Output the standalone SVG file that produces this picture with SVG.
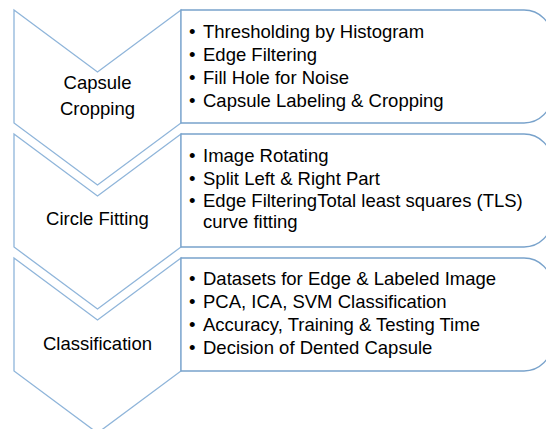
<svg xmlns="http://www.w3.org/2000/svg" width="546" height="429" viewBox="0 0 546 429">
<style>
.chev{fill:#ffffff;stroke:#8fb5da;stroke-width:1.3}
.box{fill:#ffffff;stroke:#78a2cb;stroke-width:1.3}
text{font-family:"Liberation Sans",Arial,sans-serif;font-size:18.5px;fill:#000}
.c{text-anchor:middle}
</style>
<rect width="546" height="429" fill="#ffffff"/>
<g id="step1">
<path class="chev" d="M14,10 L97.5,72 L181,10 L181,123 L97.5,185 L14,123 Z"/>
<text class="c" x="97.5" y="89">Capsule</text>
<text class="c" x="97.5" y="115">Cropping</text>
</g>
<g id="detail1">
<path class="box" d="M181,10 H524 A28,28 0 0 1 552,38 V95 A28,28 0 0 1 524,123 H181 Z"/>
<text x="189" y="38">•</text><text x="203" y="38">Thresholding by Histogram</text>
<text x="189" y="61">•</text><text x="203" y="61">Edge Filtering</text>
<text x="189" y="84">•</text><text x="203" y="84">Fill Hole for Noise</text>
<text x="189" y="107">•</text><text x="203" y="107">Capsule Labeling &amp; Cropping</text>
</g>
<g id="step2">
<path class="chev" d="M14,134 L97.5,196 L181,134 L181,247 L97.5,309 L14,247 Z"/>
<text class="c" x="97.5" y="225">Circle Fitting</text>
</g>
<g id="detail2">
<path class="box" d="M181,134 H524 A28,28 0 0 1 552,162 V219 A28,28 0 0 1 524,247 H181 Z"/>
<text x="189" y="162">•</text><text x="203" y="162">Image Rotating</text>
<text x="189" y="185">•</text><text x="203" y="185">Split Left &amp; Right Part</text>
<text x="189" y="207">•</text><text x="203" y="207">Edge FilteringTotal least squares (TLS)</text>
<text x="203" y="228">curve fitting</text>
</g>
<g id="step3">
<path class="chev" d="M14,258 L97.5,320 L181,258 L181,371 L97.5,433 L14,371 Z"/>
<text class="c" x="97.5" y="350">Classification</text>
</g>
<g id="detail3">
<path class="box" d="M181,258 H524 A28,28 0 0 1 552,286 V343 A28,28 0 0 1 524,371 H181 Z"/>
<text x="189" y="285">•</text><text x="203" y="285">Datasets for Edge &amp; Labeled Image</text>
<text x="189" y="308">•</text><text x="203" y="308">PCA, ICA, SVM Classification</text>
<text x="189" y="331">•</text><text x="203" y="331">Accuracy, Training &amp; Testing Time</text>
<text x="189" y="354">•</text><text x="203" y="354">Decision of Dented Capsule</text>
</g>
<g id="connectors"></g>
</svg>
